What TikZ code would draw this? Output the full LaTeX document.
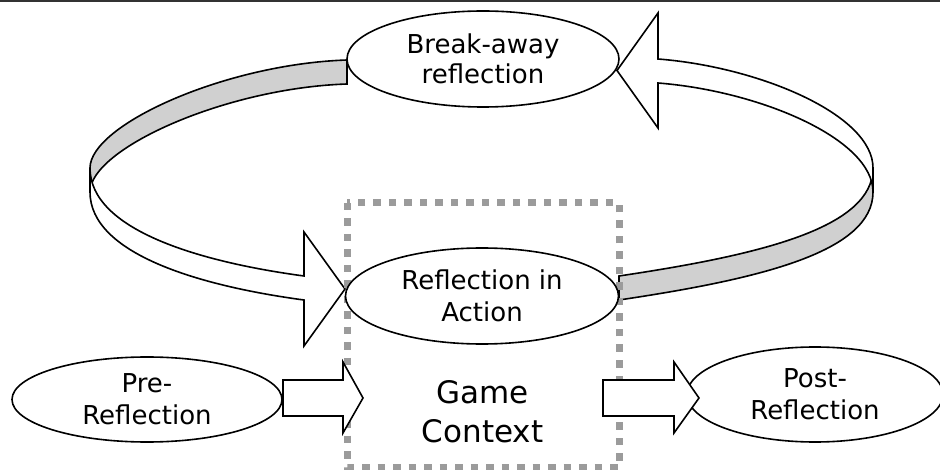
\documentclass[tikz,border=0pt]{standalone}
\usepackage{fontspec}
\setmainfont{DejaVu Sans}
\usetikzlibrary{shapes.geometric}
\definecolor{bandgray}{RGB}{208,208,208}
\definecolor{dotgray}{RGB}{155,155,155}
\begin{document}
\begin{tikzpicture}[x=1pt,y=-1pt,
  outline/.style={draw=black,line width=1.6pt,line join=miter},
  bandface/.style={outline,fill=bandgray},
  frontface/.style={outline,fill=white},
  blockarrow/.style={outline,fill=white},
  bubble/.style={ellipse,draw=black,line width=1.6pt,fill=white,inner sep=0pt,
    align=center,font=\fontsize{26}{32}\selectfont},
  contextbox/.style={draw=dotgray,line width=7pt,dash pattern=on 7.5pt off 8pt},
]
\useasboundingbox (0,0) rectangle (940,470);
\clip (0,0) rectangle (940,470);

% rule along the top edge
\draw[line width=2pt,black!80] (0,1) -- (940,1);

% looping ribbon arrow: shaded inner faces
\path[bandface] (347,60) .. controls (225,64) and (90,125) .. (90,168)
  -- (90,192) .. controls (90,149) and (225,88) .. (347,84) -- cycle;
\path[bandface] (873,168) .. controls (873,228) and (760,255) .. (619,276)
  -- (619,300) .. controls (760,279) and (873,252) .. (873,192) -- cycle;

% looping ribbon arrow: white outer faces with heads
\path[frontface] (90,168) .. controls (90,230) and (200,262) .. (304,276)
  -- (304,232) -- (345,289) -- (304,346) -- (304,300)
  .. controls (200,286) and (90,254) .. (90,192) -- cycle;
\path[frontface] (617,70.5) -- (658,13) -- (658,59)
  .. controls (760,67) and (873,115) .. (873,168)
  -- (873,192) .. controls (873,139) and (760,91) .. (658,83)
  -- (658,128) -- cycle;

% game context frame
\draw[contextbox] (347,203) rectangle (619,467);

% ellipses
\node[bubble,minimum width=272pt,minimum height=96pt,
  font=\fontsize{26}{30}\selectfont] (brk) at (483,59) {Break-away\\reflection};
\node[bubble,minimum width=273pt,minimum height=96pt] (ria) at (482,296) {Reflection in\\Action};
\node[bubble,minimum width=270pt,minimum height=85pt] (pre) at (147,399.5) {Pre-\\Reflection};
\node[bubble,minimum width=256pt,minimum height=95pt] (post) at (815,394.5) {Post-\\Reflection};

\node[align=center,inner sep=0pt,font=\fontsize{31}{39}\selectfont] (game) at (482.5,412) {Game\\Context};

% block arrows into and out of the game context
\path[blockarrow] (283,380) -- (343,380) -- (343,362) -- (363,398)
  -- (343,433) -- (343,416) -- (283,416) -- cycle;
\path[blockarrow] (603,380) -- (674,380) -- (674,362) -- (699,398)
  -- (674,433) -- (674,416) -- (603,416) -- cycle;
\end{tikzpicture}
\end{document}
